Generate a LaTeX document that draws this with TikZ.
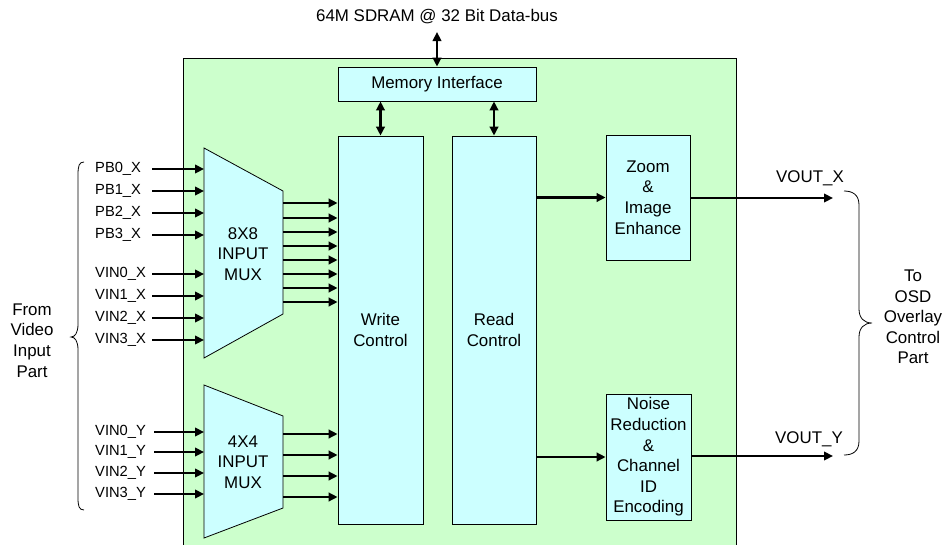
\documentclass[tikz,border=0pt]{standalone}
\usepackage{fontspec}
\setmainfont{Liberation Sans}
\usetikzlibrary{arrows.meta}
\definecolor{bggreen}{HTML}{CCFFCC}
\definecolor{boxcyan}{HTML}{CCFFFF}
\begin{document}
\begin{tikzpicture}[x=1pt,y=-1pt,
  every node/.style={font=\fontsize{16.9}{20.6}\selectfont, inner sep=0pt},
  blk/.style={draw=black, line width=0.8pt, fill=boxcyan, align=center},
  muxshape/.style={draw=black, line width=0.8pt, fill=boxcyan},
  txt/.style={align=center},
  arr/.style={line width=2.4pt, -{Triangle[length=9pt,width=8.5pt]}},
  biarr/.style={line width=2.4pt, {Triangle[length=9pt,width=8.5pt]}-{Triangle[length=9pt,width=8.5pt]}},
  lbl/.style={anchor=west, font=\fontsize{14.7}{18}\selectfont},
  brc/.style={line width=0.8pt}
]
\clip (0,0) rectangle (944,544);
\fill[white] (0,0) rectangle (944,544);
% background chip area
\draw[fill=bggreen, line width=0.8pt] (183,58) rectangle (736,580);

% blocks
\node[blk, minimum width=198pt, minimum height=34pt] (mem) at (437,84) {Memory Interface};
\node[blk, minimum width=85pt, minimum height=388pt] (write) at (380.5,330) {Write\\Control};
\node[blk, minimum width=84pt, minimum height=388pt] (read) at (494,330) {Read\\Control};
\node[blk, minimum width=84pt, minimum height=125pt] (zoom) at (648,197.5) {Zoom\\\&\\Image\\Enhance};
\node[blk, minimum width=85pt, minimum height=126pt] (noise) at (648.5,457) {Noise\\Reduction\\\&\\Channel\\ID\\Encoding};

% muxes
\draw[muxshape] (204,148) -- (283,191) -- (283,314) -- (204,358) -- cycle;
\node[txt] (mux8) at (243,254) {8X8\\INPUT\\MUX};
\draw[muxshape] (204,385) -- (283,416) -- (283,508) -- (204,538) -- cycle;
\node[txt] (mux4) at (243,462) {4X4\\INPUT\\MUX};
\coordinate (m8l) at (204,250);
\coordinate (m4l) at (204,460);

% top SDRAM
\node (sdram) at (437,17) {64M SDRAM @ 32 Bit Data-bus};
\coordinate (sd) at (437,32);
\draw[biarr] (sd) -- (mem.north);
\draw[biarr] (mem.south -| write.north) -- (write.north);
\draw[biarr] (mem.south -| read.north) -- (read.north);

% 8x8 inputs
\foreach \n/\t/\y in {a/PB0\_X/169, b/PB1\_X/191, c/PB2\_X/213, d/PB3\_X/235, e/VIN0\_X/274, f/VIN1\_X/296, g/VIN2\_X/318, h/VIN3\_X/340}{
  \node[lbl] (l\n) at (95,\y) {\t};
  \coordinate (s\n) at (152,\y);
  \draw[arr] (s\n) -- (s\n -| m8l);
}
% 4x4 inputs
\foreach \n/\t/\y in {p/VIN0\_Y/432, q/VIN1\_Y/452, r/VIN2\_Y/473, s/VIN3\_Y/494}{
  \node[lbl] (l\n) at (95,\y) {\t};
  \coordinate (s\n) at (154,\y);
  \draw[arr] (s\n) -- (s\n -| m4l);
}
% 8x8 outputs
\foreach \n/\y in {1/203, 2/218, 3/232, 4/246, 5/260, 6/274, 7/288, 8/302}{
  \coordinate (o\n) at (283,\y);
  \draw[arr] (o\n) -- (o\n -| write.west);
}
% 4x4 outputs
\foreach \n/\y in {1/434, 2/455, 3/476, 4/497}{
  \coordinate (q\n) at (283,\y);
  \draw[arr] (q\n) -- (q\n -| write.west);
}

% read to processing
\draw[arr] (read.east |- zoom.west) -- (zoom.west);
\draw[arr] (read.east |- noise.west) -- (noise.west);
\coordinate (vx) at (833,198);
\coordinate (vy) at (833,456);
\draw[arr] (zoom.east |- vx) -- (vx);
\draw[arr] (noise.east |- vy) -- (vy);
\node (vxl) at (810,178) {VOUT\_X};
\node (vyl) at (809,439) {VOUT\_Y};

% left brace
\draw[brc] (84,162) .. controls (79,162) and (78,166) .. (78,175) -- (78,324)
  .. controls (78,333) and (75,337) .. (71,337)
  .. controls (75,337) and (78,341) .. (78,350) -- (78,498)
  .. controls (78,506) and (79,510) .. (84,510);
\node[txt] (fromtxt) at (32,340.5) {From\\Video\\Input\\Part};

% right brace
\draw[brc] (844,191) .. controls (853,191) and (859,195) .. (859,205) -- (859,309)
  .. controls (859,318) and (864,323) .. (872,323)
  .. controls (864,323) and (859,328) .. (859,337) -- (859,441)
  .. controls (859,451) and (853,455) .. (844,455);
\node[txt] (totxt) at (913,317) {To\\OSD\\Overlay\\Control\\Part};
\end{tikzpicture}
\end{document}
